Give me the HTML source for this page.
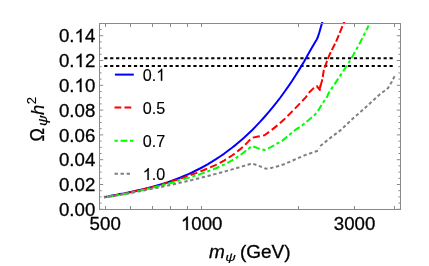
<!DOCTYPE html>
<html><head><meta charset="utf-8"><title>plot</title><style>html,body{margin:0;padding:0;background:#fff;overflow:hidden}body{width:429px;height:266px;font-family:"Liberation Sans",sans-serif}</style></head><body>
<svg width="429" height="266" viewBox="0 0 429 266" style="display:block;will-change:transform">
<rect width="429" height="266" fill="#fff"/>
<defs><clipPath id="c"><rect x="99.5" y="22.0" width="301.0" height="187.5"/></clipPath></defs>
<g clip-path="url(#c)" fill="none" stroke-width="2" stroke-linejoin="round">
<path d="M104.2,58.2 H392.8" stroke="#000" stroke-dasharray="3.2 2.744"/>
<path d="M104.2,65.9 H392.8" stroke="#000" stroke-dasharray="3.2 2.744"/>
<path d="M104.0,197.1 L108.0,196.4 L112.0,195.6 L116.0,194.9 L120.0,194.1 L124.0,193.4 L128.0,192.6 L132.0,191.7 L136.0,190.8 L140.0,189.9 L144.0,189.0 L148.0,188.0 L152.0,186.9 L156.0,185.8 L160.0,184.6 L164.0,183.4 L168.0,182.1 L172.0,180.7 L176.0,179.2 L180.0,177.7 L184.0,176.0 L188.0,174.3 L192.0,172.5 L196.0,170.5 L200.0,168.5 L204.0,166.3 L208.0,164.1 L212.0,161.7 L216.0,159.2 L220.0,156.5 L224.0,153.8 L228.0,150.8 L232.0,147.8 L236.0,144.6 L240.0,141.2 L244.0,137.7 L248.0,134.0 L252.0,130.2 L256.0,126.1 L260.0,121.9 L264.0,117.5 L268.0,112.9 L272.0,108.1 L276.0,103.2 L280.0,98.0 L284.0,92.5 L288.0,86.9 L292.0,81.0 L296.0,74.8 L300.0,68.4 L304.0,61.7 L308.0,54.6 L311.4,48.4 L314.9,42.6 L316.6,39.7 L317.8,37.2 L318.7,34.4 L319.4,32.2 L320.6,28.0 L322.5,21.5" stroke="#0000ff"/>
<path d="M104.0,197.2 L108.0,196.6 L112.0,195.9 L116.0,195.2 L120.0,194.5 L124.0,193.7 L128.0,192.9 L132.0,192.0 L136.0,191.1 L140.0,190.2 L144.0,189.2 L148.0,188.2 L152.0,187.2 L156.0,186.1 L160.0,185.0 L164.0,183.8 L168.0,182.6 L172.0,181.3 L176.0,180.1 L180.0,178.7 L184.0,177.4 L188.0,176.0 L192.0,174.5 L196.0,173.1 L200.0,171.5 L204.0,170.0 L208.0,168.3 L212.0,166.6 L216.0,164.8 L220.0,162.8 L224.0,160.6 L228.0,158.2 L232.0,155.5 L236.0,152.6 L240.0,149.4 L244.0,145.8 L248.0,141.9 L251.9,137.8 L258.2,136.5 L264.5,135.2 L270.8,130.6 L278.4,124.6 L284.0,119.6 L290.0,113.6 L297.6,105.9 L305.7,97.4 L309.6,92.0 L313.9,87.9 L316.7,86.0 L320.5,90.6" stroke="#ff0000" stroke-dasharray="7.2 3.3" stroke-dashoffset="4.97"/>
<path d="M319.7,88.6 L322.3,79.8 L323.8,70.2 L326.9,61.3 L329.4,55.0 L336.4,40.9 L344.4,21.5" stroke="#ff0000" stroke-dasharray="7.2 2.3" stroke-dashoffset="7.00"/>
<path d="M319.7,88.6 L320.7,85.2" stroke="#ff0000"/>
<path d="M104.0,197.3 L108.0,196.7 L112.0,196.0 L116.0,195.4 L120.0,194.7 L124.0,193.9 L128.0,193.2 L132.0,192.4 L136.0,191.5 L140.0,190.7 L144.0,189.8 L148.0,188.8 L152.0,187.9 L156.0,186.9 L160.0,185.9 L164.0,184.8 L168.0,183.8 L172.0,182.7 L176.0,181.5 L180.0,180.3 L184.0,179.1 L188.0,177.9 L192.0,176.7 L196.0,175.4 L200.0,174.1 L204.0,172.7 L208.0,171.3 L212.0,169.8 L216.0,168.2 L220.0,166.5 L224.0,164.7 L228.0,162.6 L232.0,160.4 L236.0,157.9 L240.0,155.2 L244.0,152.2 L248.0,149.1 L251.9,146.0 L258.2,148.4 L264.5,150.0 L270.8,147.2 L278.4,142.8 L282.0,140.9 L290.0,134.3 L295.0,130.1 L302.6,125.1 L310.2,118.8 L315.2,114.4 L319.0,109.3 L322.7,103.0 L326.5,98.0 L328.7,93.0 L339.3,77.0 L349.3,61.9 L353.3,55.0 L360.3,42.2 L368.7,25.5" stroke="#00ff00" stroke-dasharray="3.3 2.8 6.9 2.7" stroke-dashoffset="3.33"/>
<path d="M104.0,197.6 L108.0,196.9 L112.0,196.2 L116.0,195.6 L120.0,194.8 L124.0,194.1 L128.0,193.4 L132.0,192.7 L136.0,191.9 L140.0,191.2 L144.0,190.4 L148.0,189.6 L152.0,188.8 L156.0,188.0 L160.0,187.2 L164.0,186.3 L168.0,185.4 L172.0,184.6 L176.0,183.7 L180.0,182.8 L184.0,181.9 L188.0,180.9 L192.0,180.0 L196.0,179.0 L200.0,178.0 L204.0,177.0 L208.0,176.0 L212.0,174.9 L216.0,173.9 L220.0,172.8 L224.0,171.7 L228.0,170.6 L232.0,169.4 L236.0,168.3 L240.0,167.1 L244.0,165.9 L248.0,164.7 L252.0,163.4 L258.9,165.8 L265.8,168.7 L271.5,167.9 L277.8,166.2 L284.1,164.3 L293.8,160.0 L305.1,155.1 L317.1,151.0 L318.9,150.4 L319.3,148.6" stroke="#808080" stroke-dasharray="3.35 2.6" stroke-dashoffset="1.35"/>
<path d="M320.2,146.0 L321.5,145.0 L330.3,137.9 L340.4,130.4 L352.6,118.8 L365.2,107.8 L374.7,98.9 L379.7,94.4 L384.7,90.7 L387.9,88.2 L391.7,81.9 L394.6,76.2" stroke="#808080" stroke-dasharray="3.35 2.504"/>
</g>
<g fill="none" stroke="#8a8a8a" stroke-width="1">
<rect x="99.5" y="23.5" width="301.0" height="186.0"/>
<path d="M99.5,209.30 h3.7 M400.5,209.30 h-3.7 M99.5,203.10 h2.1 M400.5,203.10 h-2.1 M99.5,196.90 h2.1 M400.5,196.90 h-2.1 M99.5,190.70 h2.1 M400.5,190.70 h-2.1 M99.5,184.50 h3.7 M400.5,184.50 h-3.7 M99.5,178.30 h2.1 M400.5,178.30 h-2.1 M99.5,172.10 h2.1 M400.5,172.10 h-2.1 M99.5,165.90 h2.1 M400.5,165.90 h-2.1 M99.5,159.70 h3.7 M400.5,159.70 h-3.7 M99.5,153.50 h2.1 M400.5,153.50 h-2.1 M99.5,147.30 h2.1 M400.5,147.30 h-2.1 M99.5,141.10 h2.1 M400.5,141.10 h-2.1 M99.5,134.90 h3.7 M400.5,134.90 h-3.7 M99.5,128.70 h2.1 M400.5,128.70 h-2.1 M99.5,122.50 h2.1 M400.5,122.50 h-2.1 M99.5,116.30 h2.1 M400.5,116.30 h-2.1 M99.5,110.10 h3.7 M400.5,110.10 h-3.7 M99.5,103.90 h2.1 M400.5,103.90 h-2.1 M99.5,97.70 h2.1 M400.5,97.70 h-2.1 M99.5,91.50 h2.1 M400.5,91.50 h-2.1 M99.5,85.30 h3.7 M400.5,85.30 h-3.7 M99.5,79.10 h2.1 M400.5,79.10 h-2.1 M99.5,72.90 h2.1 M400.5,72.90 h-2.1 M99.5,66.70 h2.1 M400.5,66.70 h-2.1 M99.5,60.50 h3.7 M400.5,60.50 h-3.7 M99.5,54.30 h2.1 M400.5,54.30 h-2.1 M99.5,48.10 h2.1 M400.5,48.10 h-2.1 M99.5,41.90 h2.1 M400.5,41.90 h-2.1 M99.5,35.70 h3.7 M400.5,35.70 h-3.7 M99.5,29.50 h2.1 M400.5,29.50 h-2.1 M105.50,209.5 v-3.5 M105.50,23.5 v3.5 M130.50,209.5 v-3.5 M130.50,23.5 v3.5 M152.50,209.5 v-3.5 M152.50,23.5 v3.5 M170.50,209.5 v-3.5 M170.50,23.5 v3.5 M187.50,209.5 v-3.5 M187.50,23.5 v3.5 M201.50,209.5 v-3.5 M201.50,23.5 v3.5 M298.50,209.5 v-3.5 M298.50,23.5 v3.5 M354.50,209.5 v-3.5 M354.50,23.5 v3.5 M394.50,209.5 v-3.5 M394.50,23.5 v3.5"/>
</g>
<g fill="none" stroke-width="2">
<path d="M114.9,74.6 H133.8" stroke="#0000ff"/>
<path d="M114.5,107.6 H133.8" stroke="#ff0000" stroke-dasharray="6.8 3.2"/>
<path d="M114.5,140.8 H133.8" stroke="#00ff00" stroke-dasharray="3.3 2.8 6.9 2.5"/>
<path d="M114.5,173.8 H130.0" stroke="#808080" stroke-dasharray="3.4 2.65"/>
</g>
<g font-family="Liberation Sans, sans-serif" fill="#000" stroke="#000" stroke-width="0.30">
<g stroke-width="0.15" transform="translate(142.8,80.7) scale(0.96,1)"><text x="0.00" y="0.00" font-size="16.80">0</text><text x="9.34" y="0.00" font-size="16.80">.</text><path transform="translate(14.01,0.00) scale(0.00820,-0.00820)" d="M763 0H583V1147Q518 1085 412.5 1023T223 930V1104Q374 1175 487 1276T647 1472H763Z" stroke-width="18.3"/></g>
<g stroke-width="0.15" transform="translate(142.8,114.0) scale(0.96,1)"><text x="0.00" y="0.00" font-size="16.80">0</text><text x="9.34" y="0.00" font-size="16.80">.</text><text x="14.01" y="0.00" font-size="16.80">5</text></g>
<g stroke-width="0.15" transform="translate(142.8,147.1) scale(0.96,1)"><text x="0.00" y="0.00" font-size="16.80">0</text><text x="9.34" y="0.00" font-size="16.80">.</text><text x="14.01" y="0.00" font-size="16.80">7</text></g>
<g stroke-width="0.15" transform="translate(142.8,180.1) scale(0.96,1)"><path transform="translate(0.00,0.00) scale(0.00820,-0.00820)" d="M763 0H583V1147Q518 1085 412.5 1023T223 930V1104Q374 1175 487 1276T647 1472H763Z" stroke-width="18.3"/><text x="9.34" y="0.00" font-size="16.80">.</text><text x="14.01" y="0.00" font-size="16.80">0</text></g>
<text x="58.96" y="215.90" font-size="18.67">0</text><text x="69.35" y="215.90" font-size="18.67">.</text><text x="74.53" y="215.90" font-size="18.67">0</text><text x="84.92" y="215.90" font-size="18.67">0</text>
<text x="58.96" y="191.10" font-size="18.67">0</text><text x="69.35" y="191.10" font-size="18.67">.</text><text x="74.53" y="191.10" font-size="18.67">0</text><text x="84.92" y="191.10" font-size="18.67">2</text>
<text x="58.96" y="166.30" font-size="18.67">0</text><text x="69.35" y="166.30" font-size="18.67">.</text><text x="74.53" y="166.30" font-size="18.67">0</text><text x="84.92" y="166.30" font-size="18.67">4</text>
<text x="58.96" y="141.50" font-size="18.67">0</text><text x="69.35" y="141.50" font-size="18.67">.</text><text x="74.53" y="141.50" font-size="18.67">0</text><text x="84.92" y="141.50" font-size="18.67">6</text>
<text x="58.96" y="116.70" font-size="18.67">0</text><text x="69.35" y="116.70" font-size="18.67">.</text><text x="74.53" y="116.70" font-size="18.67">0</text><text x="84.92" y="116.70" font-size="18.67">8</text>
<text x="58.96" y="91.90" font-size="18.67">0</text><text x="69.35" y="91.90" font-size="18.67">.</text><path transform="translate(74.53,91.90) scale(0.00912,-0.00912)" d="M763 0H583V1147Q518 1085 412.5 1023T223 930V1104Q374 1175 487 1276T647 1472H763Z" stroke-width="32.9"/><text x="84.92" y="91.90" font-size="18.67">0</text>
<text x="58.96" y="67.10" font-size="18.67">0</text><text x="69.35" y="67.10" font-size="18.67">.</text><path transform="translate(74.53,67.10) scale(0.00912,-0.00912)" d="M763 0H583V1147Q518 1085 412.5 1023T223 930V1104Q374 1175 487 1276T647 1472H763Z" stroke-width="32.9"/><text x="84.92" y="67.10" font-size="18.67">2</text>
<text x="58.96" y="42.30" font-size="18.67">0</text><text x="69.35" y="42.30" font-size="18.67">.</text><path transform="translate(74.53,42.30) scale(0.00912,-0.00912)" d="M763 0H583V1147Q518 1085 412.5 1023T223 930V1104Q374 1175 487 1276T647 1472H763Z" stroke-width="32.9"/><text x="84.92" y="42.30" font-size="18.67">4</text>
<text x="89.62" y="230.00" font-size="18.67">5</text><text x="100.01" y="230.00" font-size="18.67">0</text><text x="110.39" y="230.00" font-size="18.67">0</text>
<path transform="translate(180.88,230.00) scale(0.00912,-0.00912)" d="M763 0H583V1147Q518 1085 412.5 1023T223 930V1104Q374 1175 487 1276T647 1472H763Z" stroke-width="32.9"/><text x="191.27" y="230.00" font-size="18.67">0</text><text x="201.65" y="230.00" font-size="18.67">0</text><text x="212.03" y="230.00" font-size="18.67">0</text>
<text x="333.75" y="230.00" font-size="18.67">3</text><text x="344.14" y="230.00" font-size="18.67">0</text><text x="354.52" y="230.00" font-size="18.67">0</text><text x="364.90" y="230.00" font-size="18.67">0</text>
<text x="209" y="257.7" font-size="19"><tspan font-style="italic">m</tspan></text>
<text x="239.9" y="257.7" font-size="19">(GeV)</text>
<text transform="translate(225.3,260.9) scale(1,0.81)" font-size="14.6" font-style="italic" stroke-width="0.2">ψ</text>
<text transform="translate(43.9,141.5) rotate(-90) scale(0.86,1)" font-size="21">Ω</text>
<text transform="translate(47.4,125.9) rotate(-90) scale(1,0.81)" font-size="14.8" font-style="italic" stroke-width="0.2">ψ</text>
<text transform="translate(43.7,115.0) rotate(-90)" font-size="18.6" font-style="italic" stroke-width="0.15">h</text>
<text transform="translate(35.8,104.3) rotate(-90)" font-size="13.2" stroke-width="0.15">2</text>
</g>
</svg>
</body></html>
